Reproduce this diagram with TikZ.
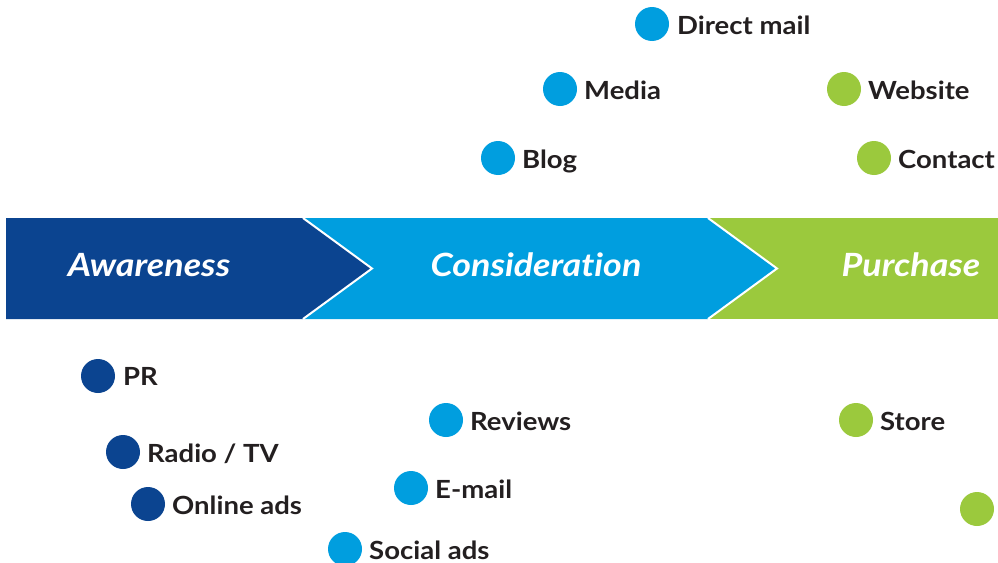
\documentclass[tikz,border=0pt]{standalone}
\usepackage{fontspec}
\setmainfont{Lato}
\newfontfamily\lblfont[FakeStretch=1.1,Ligatures=NoCommon]{Lato}
\newfontfamily\stagefont[FakeStretch=1.12,Ligatures=NoCommon]{Lato}
\definecolor{cdark}{HTML}{0B4490}
\definecolor{clight}{HTML}{009EDF}
\definecolor{cgreen}{HTML}{9BC93D}
\definecolor{ctext}{HTML}{231F20}
\begin{document}
\begin{tikzpicture}[x=1pt,y=-1pt,
  dotnode/.style={circle,minimum size=34pt,inner sep=0pt,fill=#1},
  lbl/.style={anchor=base west,inner sep=0pt,text=ctext,font=\lblfont\fontsize{25}{30}\selectfont\bfseries},
  stage/.style={anchor=base,inner sep=0pt,text=white,font=\stagefont\fontsize{32}{38}\selectfont\bfseries\itshape}]
\useasboundingbox (0,0) rectangle (998,562);
% band
\fill[cgreen] (700,218) rectangle (998,319);
\fill[clight] (303,218) -- (708,218) -- (777,268.5) -- (708,319) -- (303,319) -- (372,268.5) -- cycle;
\fill[cdark] (6,218) -- (303,218) -- (372,268.5) -- (303,319) -- (6,319) -- cycle;
\draw[white,line width=2pt] (303,218) -- (372,268.5) -- (303,319);
\draw[white,line width=2pt] (708,218) -- (777,268.5) -- (708,319);
\node[stage] (aw) at (149,276) {Awareness};
\node[stage] (co) at (536,276) {Consideration};
\node[stage] (pu) at (911,276) {Purchase};
% top dots
\node[dotnode=clight] (d1) at (652,24) {};
\node[lbl] (t1) at (677,34) {Direct mail};
\node[dotnode=clight] (d2) at (560,89) {};
\node[lbl] (t2) at (584,99) {Media};
\node[dotnode=clight] (d3) at (498,158) {};
\node[lbl] (t3) at (522,168) {Blog};
\node[dotnode=cgreen] (d4) at (844,89) {};
\node[lbl] (t4) at (868,99) {Website};
\node[dotnode=cgreen] (d5) at (874,158) {};
\node[lbl] (t5) at (898,168) {Contact};
% bottom dots
\node[dotnode=cdark] (d6) at (98,376) {};
\node[lbl] (t6) at (123,385) {PR};
\node[dotnode=cdark] (d7) at (123,452) {};
\node[lbl] (t7) at (147,462) {Radio / TV};
\node[dotnode=cdark] (d8) at (148,504) {};
\node[lbl] (t8) at (172,514) {Online ads};
\node[dotnode=clight] (d9) at (446,420) {};
\node[lbl] (t9) at (470,430) {Reviews};
\node[dotnode=clight] (d10) at (411,488) {};
\node[lbl] (t10) at (435,498) {E-mail};
\node[dotnode=clight] (d11) at (345,549) {};
\node[lbl] (t11) at (369,559) {Social ads};
\node[dotnode=cgreen] (d12) at (856,420) {};
\node[lbl] (t12) at (880,430) {Store};
\node[dotnode=cgreen] (d13) at (977,509) {};
\end{tikzpicture}
\end{document}
